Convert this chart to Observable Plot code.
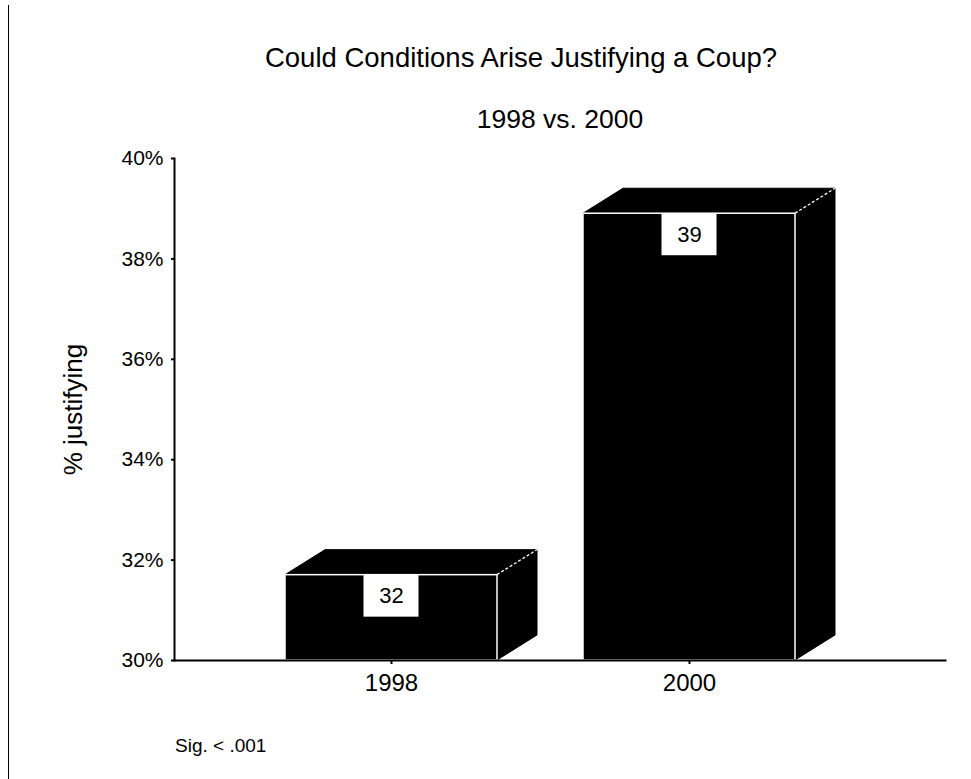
<!DOCTYPE html>
<html><head><meta charset="utf-8">
<script src="https://cdn.jsdelivr.net/npm/d3@7"></script>
<script src="https://cdn.jsdelivr.net/npm/@observablehq/plot@0.6"></script>
<style>
body{margin:0;background:#fff;font-family:"Liberation Sans",Arial,sans-serif;color:#000}
#wrap{position:relative;width:971px;height:779px;overflow:hidden;background:#fff}
#border{position:absolute;left:8px;top:5px;width:1px;height:774px;background:#000}
.t{position:absolute;line-height:1;white-space:nowrap;transform:translateX(-50%)}
#title{top:44px;left:521px;font-size:27.5px}
#subtitle{top:106px;left:560px;font-size:26.5px}
#chart{position:absolute;top:140px;left:0}
#caption{position:absolute;top:736px;left:175px;font-size:19px;line-height:1}
</style></head><body>
<div id="wrap">
<div id="border"></div>
<div id="title" class="t">Could Conditions Arise Justifying a Coup?</div>
<div id="subtitle" class="t">1998 vs. 2000</div>
<div id="chart"></div>
<div id="caption">Sig. &lt; .001</div>
</div>
<script>
const years = ["1998", "2000"];
const values = [31.7, 38.9];
const barLabels = ["32", "39"];
const yDomain = [30, 40];
const yTicks = [30, 32, 34, 36, 38, 40];
const yLabel = ["% justifying"];

const data = years.map((year, i) => ({year, value: values[i], label: barLabels[i]}));

const DX = 40, DY = 25, BOXW = 55, BOXH = 42;
const ns = "http://www.w3.org/2000/svg";

function bar3d(index, scales, vals, dims, ctx, next) {
  const front = next(index, scales, vals, dims, ctx);
  const wrap = document.createElementNS(ns, "g");
  const back = document.createElementNS(ns, "g");
  const over = document.createElementNS(ns, "g");
  const tr = front.getAttribute("transform");
  if (tr) { back.setAttribute("transform", tr); over.setAttribute("transform", tr); }
  for (const r of front.querySelectorAll("rect")) {
    const x0 = +r.getAttribute("x"), y0 = +r.getAttribute("y");
    const w = +r.getAttribute("width"), h = +r.getAttribute("height");
    const x1 = x0 + w, yb = y0 + h;
    const poly = (pts) => {
      const p = document.createElementNS(ns, "polygon");
      p.setAttribute("points", pts.map(q => q.join(",")).join(" "));
      p.setAttribute("fill", "#000");
      p.setAttribute("stroke", "#000");
      p.setAttribute("stroke-width", "1");
      back.appendChild(p);
    };
    poly([[x0, y0], [x0 + DX, y0 - DY], [x1 + DX, y0 - DY], [x1, y0]]);
    poly([[x1, y0], [x1 + DX, y0 - DY], [x1 + DX, yb - DY], [x1, yb]]);
    const l = document.createElementNS(ns, "line");
    l.setAttribute("x1", x1); l.setAttribute("y1", y0);
    l.setAttribute("x2", x1 + DX); l.setAttribute("y2", y0 - DY);
    l.setAttribute("stroke", "#fff"); l.setAttribute("stroke-width", "1.3");
    l.setAttribute("stroke-dasharray", "3,2");
    over.appendChild(l);
    const b = document.createElementNS(ns, "rect");
    b.setAttribute("x", x0 + w / 2 - BOXW / 2); b.setAttribute("y", y0);
    b.setAttribute("width", BOXW); b.setAttribute("height", BOXH);
    b.setAttribute("fill", "#fff");
    over.appendChild(b);
  }
  wrap.append(back, front, over);
  return wrap;
}

const chart = Plot.plot({
  width: 971,
  height: 580,
  marginTop: 18,
  marginBottom: 60,
  marginLeft: 174,
  marginRight: 26,
  style: {fontFamily: '"Liberation Sans", Arial, sans-serif', color: "#000", background: "transparent"},
  x: {type: "band", domain: years, paddingInner: 0.289, paddingOuter: 0.438, align: 0.425, label: null},
  y: {domain: yDomain, label: null},
  marks: [
    Plot.barY(data, {x: "year", y1: () => yDomain[0], y2: "value", fill: "#000", stroke: "#fff", strokeWidth: 1.5, render: bar3d}),
    Plot.text(data, {x: "year", y: "value", text: "label", dy: 21, fontSize: 22, fill: "#000"}),
    Plot.frame({anchor: "left", stroke: "#000", strokeWidth: 2}),
    Plot.frame({anchor: "bottom", stroke: "#000", strokeWidth: 2}),
    Plot.axisY({ticks: yTicks, tickFormat: d => d + "%", tickSize: 3, tickPadding: 8, fontSize: 21, strokeWidth: 2, label: null}),
    Plot.axisX({tickSize: 4, tickPadding: 9, fontSize: 24, strokeWidth: 2, label: null}),
    Plot.text(yLabel, {frameAnchor: "left", textAnchor: "middle", rotate: -90, dx: -101, fontSize: 26, fill: "#000"})
  ]
});
document.getElementById("chart").appendChild(chart);
</script>
</body></html>
